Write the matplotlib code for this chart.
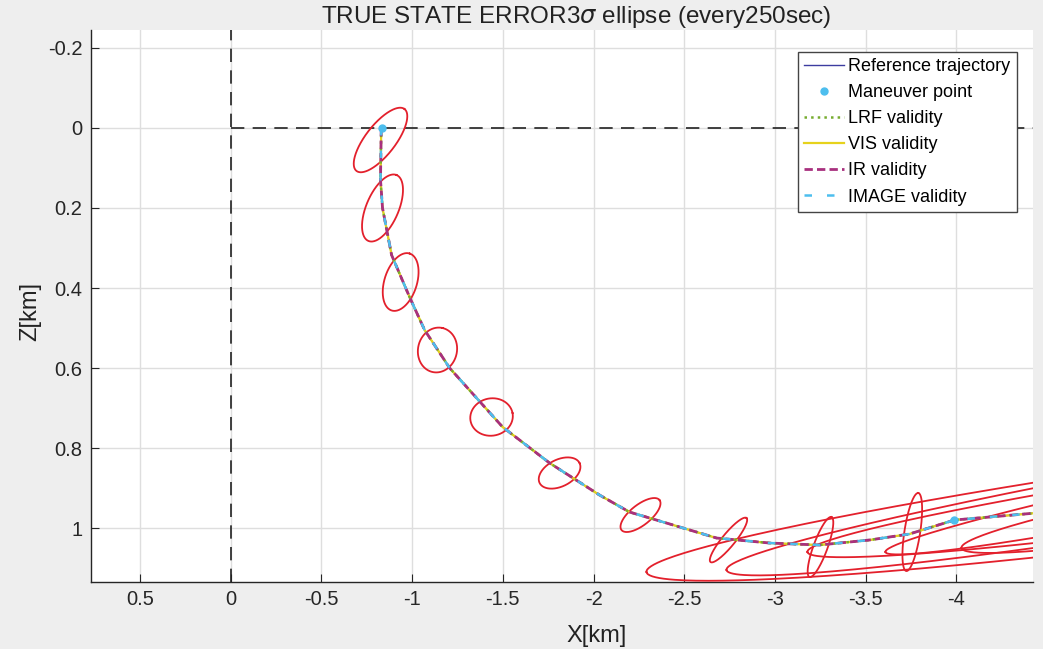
import numpy as np
import matplotlib
matplotlib.use("Agg")
import matplotlib.pyplot as plt

plt.rcParams["font.family"] = ["Liberation Sans", "DejaVu Sans"]

# reference trajectory (X, Z in km)
traj_x = [-0.83, -0.826, -0.837, -0.887, -0.986, -1.069, -1.207, -1.499, -1.758,
          -2.033, -2.198, -2.402, -2.678, -2.970, -3.245, -3.521, -3.741, -3.989, -4.44]
traj_z = [0.0, 0.13, 0.2, 0.3175, 0.4225, 0.505, 0.6, 0.7475, 0.8375,
          0.9175, 0.96, 0.9875, 1.025, 1.0375, 1.0425, 1.03, 1.015, 0.98, 0.9625]

# maneuver points
man_x = [-0.832, -3.989]
man_z = [0.0, 0.98]

# 3 sigma ellipses: centre, first half axis (u), second half axis (v)
ell_cx = [-0.826, -0.837, -0.937, -1.140, -1.438, -1.813, -2.259, -2.744, -3.251, -3.757,
          -6.0, -6.0, -6.0, -6.0, -6.0]
ell_cz = [0.03, 0.2, 0.385, 0.555, 0.7225, 0.8625, 0.9675, 1.03, 1.0475, 1.01,
          0.885, 0.855, 0.875, 0.8375, 0.895]
ell_ux = [-0.132, -0.077, -0.0496, -0.0275, -0.1157, -0.110, -0.1047, -0.0992, -0.0606, -0.0331,
          3.708, 3.267, 2.821, 2.391, 1.972]
ell_uz = [-0.0775, -0.0825, -0.0712, -0.055, -0.01, -0.025, -0.0375, -0.055, -0.075, -0.0975,
          0.225, 0.25, 0.185, 0.2225, 0.155]
ell_vx = [-0.066, -0.0826, -0.0854, -0.1047, -0.0193, -0.033, -0.0347, -0.0275, -0.0364, -0.043,
          -0.030, -0.031, -0.0226, -0.0236, -0.024]
ell_vz = [0.0225, 0.015, 0.01225, 0.01075, 0.0458, 0.03, 0.02, 0.01025, 0.006, 0.003,
          0.1016, 0.083, 0.0705, 0.052, 0.063]

xticks = [0.5, 0, -0.5, -1, -1.5, -2, -2.5, -3, -3.5, -4]
xtick_labels = ["0.5", "0", "-0.5", "-1", "-1.5", "-2", "-2.5", "-3", "-3.5", "-4"]
yticks = [-0.2, 0, 0.2, 0.4, 0.6, 0.8, 1]
ytick_labels = ["-0.2", "0", "0.2", "0.4", "0.6", "0.8", "1"]

fig = plt.figure(figsize=(10.43, 6.49), dpi=100, facecolor="#eeeeee")
ax = fig.add_axes([0.0872, 0.1032, 0.9028, 0.8506])
ax.set_facecolor("white")

xlim = (0.77, -4.42)
ylim = (1.135, -0.245)

# reference lines through the origin
ax.axvline(0, color="#222222", lw=1.2, ls=(0, (8, 5)), zorder=2)
ax.plot([0, xlim[1] - 0.1], [0, 0], color="#222222", lw=1.2, ls=(0, (8, 5)), zorder=2)

# ellipses
t = np.linspace(0, 2 * np.pi, 400)
for i in range(len(ell_cx)):
    ex = ell_cx[i] + ell_ux[i] * np.cos(t) + ell_vx[i] * np.sin(t)
    ez = ell_cz[i] + ell_uz[i] * np.cos(t) + ell_vz[i] * np.sin(t)
    ax.plot(ex, ez, color="#e3202c", lw=1.3, zorder=3)

# trajectory and sensor validity
ax.plot(traj_x, traj_z, color="#3c3ca0", lw=1.0, label="Reference trajectory", zorder=4)
ax.plot(man_x, man_z, "o", color="#4dbeee", ms=5, ls="none", label="Maneuver point", zorder=8)
ax.plot(traj_x, traj_z, color="#77ac30", lw=1.8, ls=":", label="LRF validity", zorder=5)
ax.plot(traj_x, traj_z, color="#e6d21c", lw=1.6, ls="-", label="VIS validity", zorder=4.5)
ax.plot(traj_x, traj_z, color="#a8307e", lw=2.0, ls=(0, (3, 1.5)), label="IR validity", zorder=6)
ax.plot(traj_x, traj_z, color="#4dbeee", lw=1.8, ls=(0, (3, 6)), label="IMAGE validity", zorder=7)

ax.set_xlim(xlim)
ax.set_ylim(ylim)
ax.set_xticks(xticks)
ax.set_xticklabels(xtick_labels)
ax.set_yticks(yticks)
ax.set_yticklabels(ytick_labels)
ax.tick_params(direction="in", length=6, labelsize=14.5, colors="#262626", pad=6)
ax.grid(True, color="#dedede", lw=1.0)
ax.set_axisbelow(True)

for side in ["top", "right"]:
    ax.spines[side].set_visible(False)
for side in ["left", "bottom"]:
    ax.spines[side].set_color("#262626")
    ax.spines[side].set_linewidth(1.0)

ax.set_title(r"TRUE STATE ERROR3$\sigma$ ellipse (every250sec)", fontsize=17.5,
             color="#222222", pad=3, x=0.515)
ax.set_xlabel("X[km]", fontsize=17, color="#222222")
ax.set_ylabel("Z[km]", fontsize=17, color="#222222")
ax.xaxis.set_label_coords(0.537, -0.078)
ax.yaxis.set_label_coords(-0.053, 0.49)

leg = ax.legend(loc="upper right", bbox_to_anchor=(0.983, 0.96), fontsize=13,
                handlelength=2.2, handletextpad=0.25, borderpad=0.35, labelspacing=0.5,
                borderaxespad=0, fancybox=False, framealpha=1, edgecolor="#444444")
leg.get_frame().set_linewidth(1.0)
leg.set_zorder(10)

fig.savefig("out.png", dpi=100, facecolor=fig.get_facecolor())
